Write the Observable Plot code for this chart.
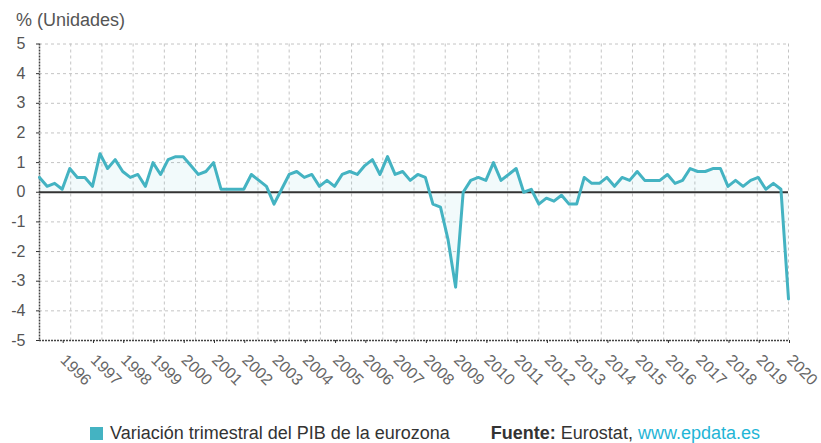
<!DOCTYPE html>
<html>
<head>
<meta charset="utf-8">
<script src="https://cdn.jsdelivr.net/npm/d3@7"></script>
<script src="https://cdn.jsdelivr.net/npm/@observablehq/plot@0.6"></script>
<style>
  body { margin: 0; background: #fff; font-family: "Liberation Sans", Arial, sans-serif; }
  #wrap { width: 821px; height: 443px; position: relative; }
  #title { height: 30px; padding-left: 16px; font-size: 18px; color: #555; line-height: 40px; }
  #legend { margin-top: 23px; font-size: 18px; color: #333; display: flex; align-items: center; white-space: nowrap; }
  .sw { display: inline-block; width: 13px; height: 13px; background: #44b3c2; margin-left: 90px; margin-right: 7px; }
  .src { margin-left: 41px; }
  .src a { color: #1fb5d6; text-decoration: none; }
</style>
</head>
<body>
<div id="wrap">
  <div id="title">% (Unidades)</div>
  <div id="chart"></div>
  <div id="legend"><span class="sw"></span><span>Variación trimestral del PIB de la eurozona</span>
    <span class="src"><b>Fuente:</b> Eurostat, <a>www.epdata.es</a></span></div>
</div>
<script>
// Quarterly GDP change (%), from 1995 Q2 to 2020 Q1
const startYear = 1995;
const startQuarter = 2;
const values = [
  0.5, 0.2, 0.3,
  0.1, 0.8, 0.5, 0.5,
  0.2, 1.3, 0.8, 1.1,
  0.7, 0.5, 0.6, 0.2,
  1.0, 0.6, 1.1, 1.2,
  1.2, 0.9, 0.6, 0.7,
  1.0, 0.1, 0.1, 0.1,
  0.1, 0.6, 0.4, 0.2,
  -0.4, 0.1, 0.6, 0.7,
  0.5, 0.6, 0.2, 0.4,
  0.2, 0.6, 0.7, 0.6,
  0.9, 1.1, 0.6, 1.2,
  0.6, 0.7, 0.4, 0.6,
  0.5, -0.4, -0.5, -1.6,
  -3.2, 0.0, 0.4, 0.5,
  0.4, 1.0, 0.4, 0.6,
  0.8, 0.0, 0.1, -0.4,
  -0.2, -0.3, -0.1, -0.4,
  -0.4, 0.5, 0.3, 0.3,
  0.5, 0.2, 0.5, 0.4,
  0.7, 0.4, 0.4, 0.4,
  0.6, 0.3, 0.4, 0.8,
  0.7, 0.7, 0.8, 0.8,
  0.2, 0.4, 0.2, 0.4,
  0.5, 0.1, 0.3, 0.1,
  -3.6
];
const yearTicks = d3.range(1996, 2021);
const yTicks = [-5, -4, -3, -2, -1, 0, 1, 2, 3, 4, 5];

const data = values.map((v, i) => ({ t: startYear + (startQuarter - 1) / 4 + i / 4, v }));
const x0 = data[0].t, x1 = data[data.length - 1].t;
const gridXVals = d3.range(1, 25).map(i => x0 + i * (x1 - x0) / 24);
const color = "#44b3c2";

const chart = Plot.plot({
  width: 821,
  height: 370,
  marginLeft: 39,
  marginRight: 33,
  marginTop: 13.5,
  marginBottom: 60,
  x: { domain: [x0, x1] },
  y: { domain: [-5, 5] },
  style: { fontFamily: "Liberation Sans, Arial, sans-serif", background: "#fff", overflow: "visible" },
  marks: [
    Plot.gridY(yTicks.filter(d => d !== 0 && d !== -5), { stroke: "#c4c4c4", strokeOpacity: 1, strokeDasharray: "3,3" }),
    Plot.gridX(gridXVals, { stroke: "#c4c4c4", strokeOpacity: 1, strokeDasharray: "3,3" }),
    Plot.areaY(data, { x: "t", y: "v", fill: color, fillOpacity: 0.07 }),
    Plot.ruleY([0], { stroke: "#333", strokeWidth: 2 }),
    Plot.ruleY([-5], { stroke: "#444", strokeWidth: 1.5, strokeDasharray: "2,1" }),
    Plot.ruleX([x0], { stroke: "#444", strokeWidth: 1.5, strokeDasharray: "2,1" }),
    Plot.lineY(data, { x: "t", y: "v", stroke: color, strokeWidth: 3 }),
    Plot.axisY(yTicks, { label: null, tickSize: 3, tickPadding: 11, fontSize: 16, color: "#555", stroke: "#333",
      tickFormat: d => String(d) }),
    Plot.axisX(yearTicks, { label: null, tickSize: 3, tickPadding: 14, dx: 1, tickRotate: 45, textAnchor: "start",
      tickFormat: d => String(d), fontSize: 16, color: "#666", stroke: "#333" })
  ]
});
document.getElementById("chart").appendChild(chart);
</script>
</body>
</html>
